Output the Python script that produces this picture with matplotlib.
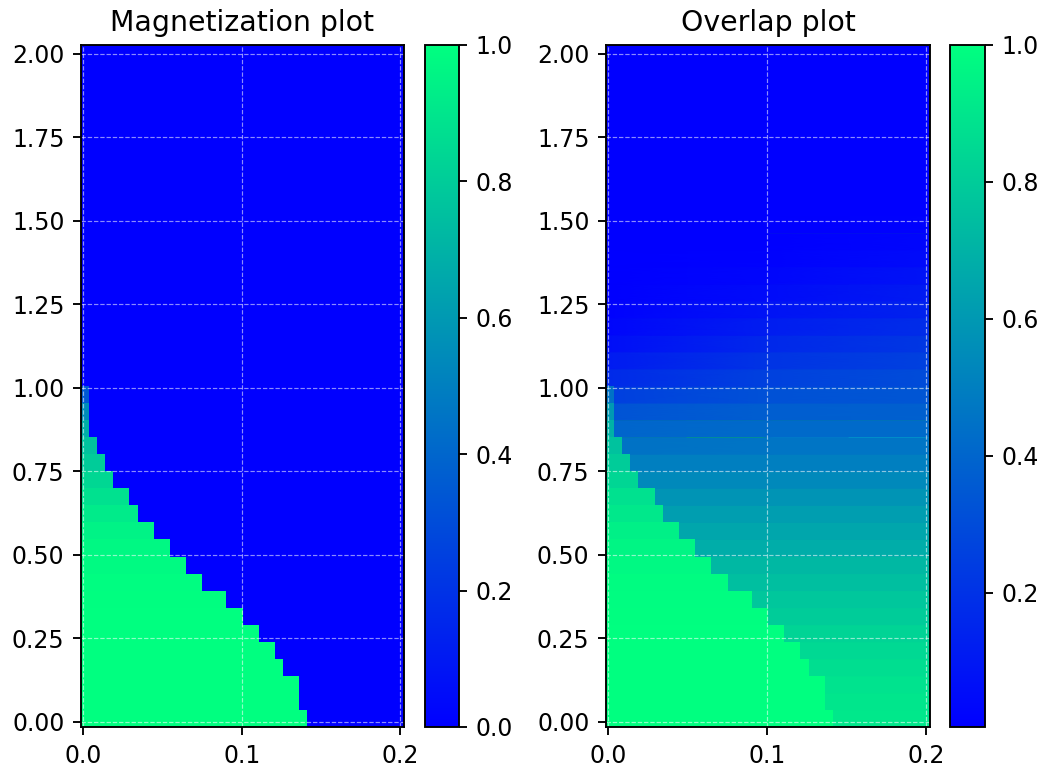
import numpy as np
import matplotlib
matplotlib.use("Agg")
import matplotlib.pyplot as plt
from matplotlib.colors import Normalize

# ---- grids (sampling of the parameter plane) ----
alpha = np.linspace(0.001, 0.2, 40)   # load alpha (x)
T = np.linspace(0.01, 2.0, 40)        # temperature (y)

# ---- data, one value per temperature row ----
# retrieval boundary alpha_c(T): cells with alpha < alpha_c are in retrieval phase
alpha_c = [0.141, 0.136, 0.136, 0.126, 0.121, 0.111, 0.100, 0.090, 0.075, 0.065,
           0.055, 0.045, 0.034, 0.029, 0.019, 0.014, 0.009, 0.004, 0.004, 0.004,
           0, 0, 0, 0, 0, 0, 0, 0, 0, 0,
           0, 0, 0, 0, 0, 0, 0, 0, 0, 0]
# magnetization inside retrieval region
m_ret = [1.0, 1.0, 1.0, 1.0, 1.0, 1.0, 1.0, 0.995, 0.99, 0.98,
         0.97, 0.95, 0.92, 0.88, 0.84, 0.80, 0.76, 0.68, 0.55, 0.35,
         0, 0, 0, 0, 0, 0, 0, 0, 0, 0,
         0, 0, 0, 0, 0, 0, 0, 0, 0, 0]
# overlap inside retrieval region
q_ret = [1.0, 1.0, 1.0, 1.0, 1.0, 1.0, 0.995, 0.99, 0.985, 0.975,
         0.96, 0.94, 0.91, 0.88, 0.84, 0.80, 0.76, 0.70, 0.60, 0.45,
         0, 0, 0, 0, 0, 0, 0, 0, 0, 0,
         0, 0, 0, 0, 0, 0, 0, 0, 0, 0]
# overlap outside retrieval region, read at alpha = 0, 0.1 and 0.2
q_sg_a000 = [0.91, 0.90, 0.89, 0.87, 0.85, 0.83, 0.80, 0.78, 0.75, 0.72,
             0.68, 0.65, 0.62, 0.58, 0.54, 0.50, 0.45, 0.40, 0.33, 0.25,
             0.17, 0.11, 0.06, 0.03, 0.012, 0.006, 0.004, 0.004, 0.004, 0.004,
             0.004, 0.004, 0.004, 0.004, 0.004, 0.004, 0.004, 0.004, 0.004, 0.004]
q_sg_a010 = [0.91, 0.90, 0.89, 0.87, 0.85, 0.83, 0.80, 0.78, 0.75, 0.72,
             0.68, 0.65, 0.62, 0.58, 0.54, 0.50, 0.46, 0.42, 0.37, 0.32,
             0.26, 0.21, 0.16, 0.12, 0.08, 0.05, 0.03, 0.015, 0.007, 0.004,
             0.004, 0.004, 0.004, 0.004, 0.004, 0.004, 0.004, 0.004, 0.004, 0.004]
q_sg_a020 = [0.91, 0.90, 0.89, 0.87, 0.85, 0.83, 0.80, 0.78, 0.75, 0.72,
             0.68, 0.65, 0.62, 0.58, 0.54, 0.50, 0.46, 0.42, 0.38, 0.34,
             0.30, 0.26, 0.22, 0.18, 0.14, 0.11, 0.08, 0.05, 0.03, 0.015,
             0.004, 0.004, 0.004, 0.004, 0.004, 0.004, 0.004, 0.004, 0.004, 0.004]
q_min = 0.004

titles = ["Magnetization plot", "Overlap plot"]
xticks = [0.0, 0.1, 0.2]
yticks = [0.0, 0.25, 0.5, 0.75, 1.0, 1.25, 1.5, 1.75, 2.0]

# ---- build fields ----
A, TT = np.meshgrid(alpha, T)
retr = A < np.array(alpha_c)[:, None]
Zm = np.where(retr, np.array(m_ret)[:, None], 0.0)
Zq_ret = np.ma.masked_where(~retr, np.repeat(np.array(q_ret)[:, None], len(alpha), axis=1))

dA = alpha[1] - alpha[0]
dT = T[1] - T[0]
x_lo, x_hi = alpha[0] - dA / 2, alpha[-1] + dA / 2
y_lo, y_hi = T[0] - dT / 2, T[-1] + dT / 2

# nodes for the smooth (horizontally graded, vertically banded) overlap background
Xn = np.array([x_lo, 0.1, x_hi])
Yn = np.column_stack([T - dT / 2, T + dT / 2]).ravel()
Cn = np.repeat(np.column_stack([q_sg_a000, q_sg_a010, q_sg_a020]), 2, axis=0)

DPI = 170
W, H = 1044, 771
fig = plt.figure(figsize=(W / DPI, H / DPI), dpi=DPI)
ax1 = fig.add_axes([81 / W, 1 - 727 / H, 323 / W, 682 / H])
cb1 = fig.add_axes([425 / W, 1 - 727 / H, 34 / W, 682 / H])
ax2 = fig.add_axes([606 / W, 1 - 727 / H, 324 / W, 682 / H])
cb2 = fig.add_axes([950 / W, 1 - 727 / H, 35 / W, 682 / H])

cmap = "winter"
im1 = ax1.pcolormesh(alpha, T, Zm, shading="nearest", cmap=cmap, vmin=0.0, vmax=1.0)
fig.colorbar(im1, cax=cb1)

normq = Normalize(vmin=q_min, vmax=1.0)
ax2.pcolormesh(Xn, Yn, Cn, shading="gouraud", cmap=cmap, norm=normq)
im2 = ax2.pcolormesh(alpha, T, Zq_ret, shading="nearest", cmap=cmap, norm=normq)
fig.colorbar(im2, cax=cb2)

for ax, title in zip([ax1, ax2], titles):
    ax.set_xlim(x_lo, x_hi)
    ax.set_ylim(y_lo, y_hi)
    ax.set_xticks(xticks)
    ax.set_yticks(yticks)
    ax.set_xticklabels([f"{v:.1f}" for v in xticks])
    ax.set_yticklabels([f"{v:.2f}" for v in yticks])
    ax.set_title(title, fontsize=12)
    ax.grid(True, linestyle="--", linewidth=0.5, color="white", alpha=0.55)

fig.savefig("out.png", dpi=DPI)
